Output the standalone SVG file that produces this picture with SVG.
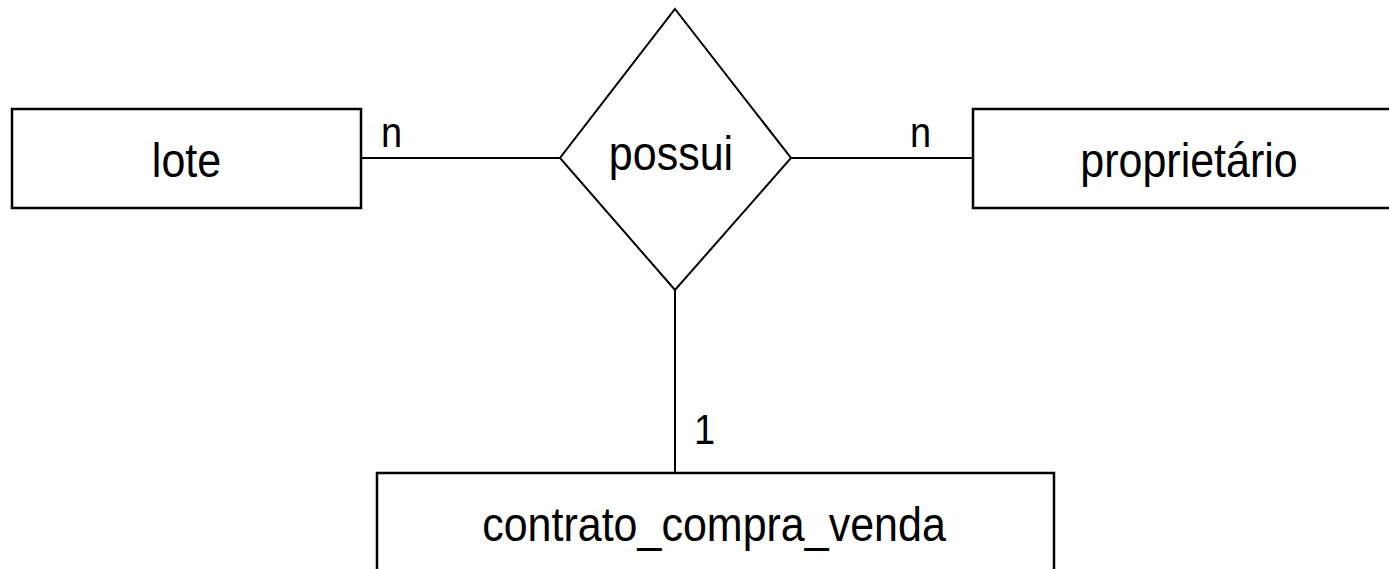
<svg xmlns="http://www.w3.org/2000/svg" width="1389" height="569" viewBox="0 0 1389 569">
<style>
.ent{fill:#fff;stroke:#000;stroke-width:2.5}
.rel{fill:#fff;stroke:#000;stroke-width:2}
.ln{stroke:#000;stroke-width:2;fill:none}
.t{font-family:"Liberation Sans",Arial,sans-serif;font-size:43px;fill:#000;text-anchor:middle}
.c{font-family:"Liberation Sans",Arial,sans-serif;font-size:38px;fill:#000}
</style>
<rect width="1389" height="569" fill="#fff"/>
<g id="connectors">
<line class="ln" x1="361" y1="158" x2="560" y2="158"/>
<line class="ln" x1="791" y1="158" x2="973" y2="158"/>
<line class="ln" x1="675" y1="290" x2="675" y2="473"/>
<text class="c" transform="translate(381,147) scale(1,1.12)">n</text>
<text class="c" transform="translate(910,147) scale(1,1.12)">n</text>
<text class="c" transform="translate(694,444) scale(1,1.12)">1</text>
</g>
<g id="lote">
<rect class="ent" x="12" y="109" width="349" height="99"/>
<text class="t" transform="translate(186.5,177) scale(1,1.12)">lote</text>
</g>
<g id="possui">
<polygon class="rel" points="675,9 791,158 675,290 560,158"/>
<text class="t" transform="translate(671,170) scale(1,1.12)">possui</text>
</g>
<g id="proprietario">
<rect class="ent" x="973" y="109" width="432" height="99"/>
<text class="t" transform="translate(1189,177) scale(1,1.12)">proprietário</text>
</g>
<g id="contrato_compra_venda">
<rect class="ent" x="377" y="473" width="677" height="110"/>
<text class="t" transform="translate(714,541) scale(1,1.12)">contrato_compra_venda</text>
</g>
</svg>
